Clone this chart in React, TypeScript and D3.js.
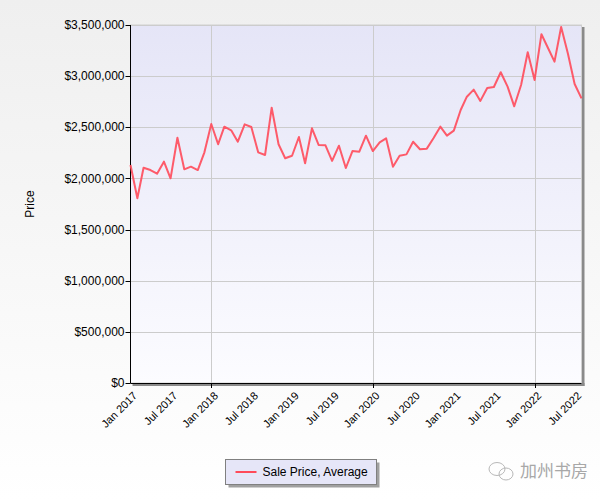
import React from "react";
import * as d3 from "d3";

const startYear = 2017;
const prices: number[] = [
  2131000, 1806000, 2105000, 2082000, 2046000, 2164000, 2001000, 2398000, 2089000, 2115000, 2082000, 2255000,
  2532000, 2334000, 2506000, 2470000, 2359000, 2529000, 2503000, 2255000, 2229000, 2692000, 2334000, 2197000,
  2222000, 2405000, 2148000, 2490000, 2327000, 2324000, 2171000, 2320000, 2102000, 2268000, 2262000, 2418000,
  2268000, 2353000, 2392000, 2115000, 2222000, 2235000, 2359000, 2285000, 2291000, 2392000, 2506000, 2418000,
  2467000, 2669000, 2799000, 2868000, 2758000, 2884000, 2894000, 3038000, 2897000, 2705000, 2913000, 3233000,
  2962000, 3410000, 3283000, 3142000, 3480000, 3217000, 2923000, 2783000,
];
const yTicks: number[] = [0, 500000, 1000000, 1500000, 2000000, 2500000, 3000000, 3500000];
const xLabelMonths: number[] = [0, 6, 12, 18, 24, 30, 36, 42, 48, 54, 60, 66];
const gridMonths: number[] = [12, 36, 60];
const monthNames = ["Jan", "Feb", "Mar", "Apr", "May", "Jun", "Jul", "Aug", "Sep", "Oct", "Nov", "Dec"];
const seriesName = "Sale Price, Average";
const yTitle = "Price";
const watermark = "加州书房";

const W = 600, H = 500;
const L = 130.5, R = 581.5, T = 25, B = 383;
const font = "'Liberation Sans', Arial, sans-serif";

const dateOf = (i: number) => new Date(startYear, i, 1);

export default function App() {
  const x = d3.scaleTime().domain([dateOf(0), dateOf(prices.length - 1)]).range([L, R]);
  const y = d3.scaleLinear().domain([0, 3500000]).range([B, T]);
  const line = d3.line<number>().x((_, i) => x(dateOf(i))).y((d) => y(d));
  const fmt = (v: number) => "$" + d3.format(",")(v);
  const legX = 225.5, legY = 459.5, legW = 151, legH = 25;
  return (
    <svg width={W} height={H} style={{ position: "absolute", left: 0, top: 0 }} fontFamily={font}>
      <defs>
        <linearGradient id="bg" x1="0" y1="0" x2="0" y2="1">
          <stop offset="0" stopColor="#efefef" />
          <stop offset="1" stopColor="#ffffff" />
        </linearGradient>
        <linearGradient id="plotbg" x1="0" y1="0" x2="0" y2="1">
          <stop offset="0" stopColor="#e5e5f7" />
          <stop offset="1" stopColor="#fcfcff" />
        </linearGradient>
      </defs>
      <rect x={0} y={0} width={W} height={H} fill="url(#bg)" />
      {/* plot shadow */}
      <rect x={R} y={T + 2} width={3} height={B - T + 1} fill="#8a8a8a" />
      <rect x={L + 2} y={B} width={R - L + 1} height={3} fill="#8a8a8a" />
      <rect x={L} y={T} width={R - L} height={B - T} fill="url(#plotbg)" stroke="#d0d0d0" strokeWidth={1} />
      {yTicks.map((t) => (
        <line key={"gy" + t} x1={L} x2={R} y1={Math.round(y(t)) + 0.5} y2={Math.round(y(t)) + 0.5} stroke="#cccccc" />
      ))}
      {gridMonths.map((m) => (
        <line key={"gx" + m} x1={Math.round(x(dateOf(m))) + 0.5} x2={Math.round(x(dateOf(m))) + 0.5} y1={T} y2={B} stroke="#cccccc" />
      ))}
      {/* axes */}
      <line x1={L} x2={L} y1={T} y2={B} stroke="#000" />
      <line x1={L} x2={R} y1={B + 0.5} y2={B + 0.5} stroke="#000" />
      {yTicks.map((t) => (
        <g key={"ty" + t}>
          <line x1={L - 5} x2={L} y1={Math.round(y(t)) + 0.5} y2={Math.round(y(t)) + 0.5} stroke="#000" />
          <text x={L - 6} y={y(t)} dy="0.35em" textAnchor="end" fontSize={12} fill="#000">{fmt(t)}</text>
        </g>
      ))}
      {gridMonths.map((m) => (
        <line key={"tx" + m} x1={Math.round(x(dateOf(m))) + 0.5} x2={Math.round(x(dateOf(m))) + 0.5} y1={B} y2={B + 5} stroke="#000" />
      ))}
      {xLabelMonths.map((m) => {
        const d = dateOf(m);
        const px = x(d);
        return (
          <text key={"lx" + m} transform={`translate(${px + 2},${B + 8}) rotate(-45)`} textAnchor="end" dy="0.7em" fontSize={11} fill="#000">
            {monthNames[d.getMonth()] + " " + d.getFullYear()}
          </text>
        );
      })}
      <text transform={`translate(34,${(T + B) / 2}) rotate(-90)`} textAnchor="middle" fontSize={12} fill="#000">{yTitle}</text>
      <path d={line(prices) || ""} fill="none" stroke="#ff4a5a" strokeWidth={2} strokeOpacity={0.9} strokeLinejoin="round" />
      {/* legend */}
      <rect x={legX + 3} y={legY + 3} width={legW} height={legH} fill="#a0a0a0" />
      <rect x={legX} y={legY} width={legW} height={legH} fill="#e6e6f8" stroke="#808080" />
      <line x1={legX + 10} x2={legX + 31} y1={legY + 12.5} y2={legY + 12.5} stroke="#ff4a5a" strokeWidth={2} />
      <text x={legX + 37} y={legY + 12.5} dy="0.35em" fontSize={12} fill="#000">{seriesName}</text>
      {/* watermark */}
      <g stroke="#b8b8b8" fill="none" strokeWidth={1}>
        <ellipse cx={497} cy={469} rx={8} ry={6.5} />
        <ellipse cx={506} cy={474} rx={7} ry={6} />
      </g>
      <text x={520} y={471} dy="0.35em" fontSize={17} fill="#a8a8a8" fontFamily="'Noto Sans CJK SC', sans-serif">{watermark}</text>
    </svg>
  );
}
